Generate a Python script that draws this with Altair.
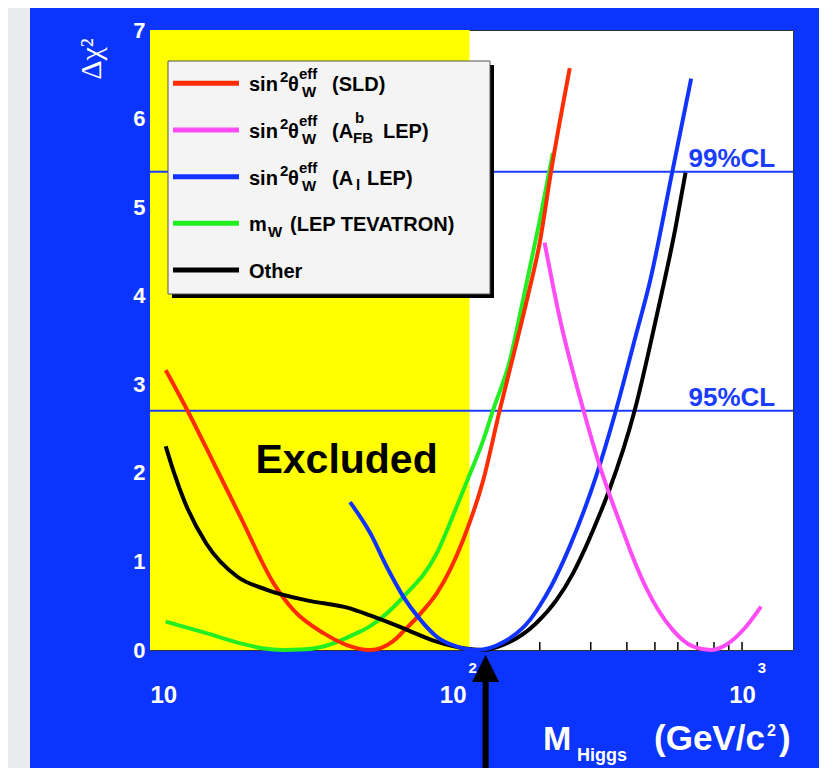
import altair as alt
import pandas as pd

# ---------------- data ----------------
sld_x = [10.2, 12.1, 15, 18.5, 24.1, 28.2, 35.8, 43.1, 51.8, 62.3, 67.6, 79.3, 88.1, 108.6, 127.6, 145.5, 166, 182, 200, 219, 254]
sld_y = [3.16, 2.71, 2.1, 1.50, 0.75, 0.45, 0.19, 0.056, 0.0, 0.1, 0.21, 0.45, 0.64, 1.24, 1.92, 2.71, 3.46, 4.0, 4.6, 5.41, 6.57]

afb_x = [207.8, 234, 283, 323, 387, 410, 465, 575, 676, 780, 882, 1030, 1163]
afb_y = [4.60, 3.76, 2.71, 2.07, 1.35, 1.13, 0.71, 0.23, 0.04, 0.0, 0.06, 0.26, 0.49]

al_x = [44.2, 51.9, 59.2, 67.6, 77.4, 88.1, 103, 121, 150, 185, 200, 219, 254, 313, 367, 431, 479, 575, 667]
al_y = [1.67, 1.32, 0.94, 0.60, 0.34, 0.15, 0.04, 0.0, 0.09, 0.34, 0.50, 0.72, 1.17, 1.96, 2.71, 3.57, 4.14, 5.41, 6.45]

mw_x = [10.2, 14.1, 18.5, 22, 26, 30, 35.8, 46.6, 51.9, 67.6, 88.1, 103.3, 114.8, 127.6, 138, 157.7, 175, 200, 222]
mw_y = [0.32, 0.19, 0.075, 0.02, 0.0, 0.005, 0.04, 0.19, 0.27, 0.60, 1.09, 1.62, 1.99, 2.37, 2.71, 3.27, 3.95, 4.85, 5.61]

oth_x = [10.2, 10.9, 11.8, 14.1, 18.0, 22.8, 31.4, 44.2, 51.9, 67.6, 88.1, 108.6, 127, 150, 194, 228, 260, 289, 323, 348, 426, 506, 590, 638]
oth_y = [2.30, 2.0, 1.69, 1.20, 0.83, 0.68, 0.56, 0.47, 0.39, 0.245, 0.094, 0.02, 0.0, 0.06, 0.30, 0.56, 0.86, 1.17, 1.54, 1.81, 2.71, 3.76, 4.78, 5.39]

cl_values = [2.7, 5.4]
cl_labels = ["95%CL", "99%CL"]
excluded_limit = 114.4
higgs_arrow = [130]
minor_ticks = [200, 300, 400, 500, 600, 700, 800, 900, 1000]
major_ticks = [10, 100, 1000]
exponents = ["2", "3"]

# ---------------- style ----------------
W, H = 643, 620
BG = "#0b34fc"
FONT = "Liberation Sans"
CL_BLUE = "#1a3cff"

xscale = alt.Scale(type="log", domain=[9, 1500], nice=False)
yscale = alt.Scale(domain=[0, 7], nice=False)
xaxis = alt.Axis(values=major_ticks, labelExpr="'10'", title=None, grid=False, ticks=False,
                 tickSize=0, domain=False, labelColor="white", labelFont=FONT,
                 labelFontWeight="bold", labelFontSize=24, labelPadding=33,
                 labelFlush=False, labelOverlap=False)
yaxis = alt.Axis(values=list(range(8)), title=None, grid=False, ticks=False, tickSize=0,
                 domain=False, labelColor="white", labelFont=FONT, labelFontWeight="bold",
                 labelFontSize=22, labelPadding=5, labelOverlap=False)


def X(f):
    return alt.X(f, type="quantitative", scale=xscale, axis=xaxis)


def Y(f):
    return alt.Y(f, type="quantitative", scale=yscale, axis=yaxis)


one = pd.DataFrame({"k": [0]})
layers = []

# light page strip at left
layers.append(alt.Chart(one).mark_rect(color="#e9ebee").encode(
    x=alt.value(-142), x2=alt.value(-120), y=alt.value(-22), y2=alt.value(H + 130)))

# excluded region
excl = pd.DataFrame({"x0": [9], "x1": [excluded_limit], "y0": [0], "y1": [7]})
layers.append(alt.Chart(excl).mark_rect(color="#ffff00").encode(
    x=X("x0"), x2="x1", y=Y("y0"), y2="y1"))

# minor ticks
tdf = pd.DataFrame({"t": minor_ticks})
layers.append(alt.Chart(tdf).mark_rule(color="black", strokeWidth=1.5).encode(
    x=X("t"), y=alt.value(H), y2=alt.value(H - 8)))

# CL lines
cl_df = pd.DataFrame({"cl": cl_values, "label": cl_labels, "xl": [1302, 1302]})
layers.append(alt.Chart(cl_df).mark_rule(color=CL_BLUE, strokeWidth=2).encode(y=Y("cl")))
layers.append(alt.Chart(cl_df).mark_text(align="right", baseline="alphabetic", dy=-5,
                                         font=FONT, fontSize=26, fontWeight="bold",
                                         color=CL_BLUE).encode(x=X("xl"), y=Y("cl"), text="label"))

# curves
series = [
    (mw_x, mw_y, "#22ee22"),
    (sld_x, sld_y, "#ff2d00"),
    (oth_x, oth_y, "#000000"),
    (al_x, al_y, "#1133ff"),
    (afb_x, afb_y, "#ff4cf5"),
]
for xs, ys, col in series:
    df = pd.DataFrame({"x": xs, "y": ys})
    layers.append(alt.Chart(df).mark_line(color=col, strokeWidth=4, interpolate="monotone").encode(
        x=X("x"), y=Y("y")))

# Excluded label
ex_df = pd.DataFrame({"x": [43], "y": [2.0], "t": ["Excluded"]})
layers.append(alt.Chart(ex_df).mark_text(align="center", baseline="alphabetic", font=FONT,
                                         fontSize=41, fontWeight="bold", color="black").encode(
    x=X("x"), y=Y("y"), text="t"))

# legend box
layers.append(alt.Chart(one).mark_rect(color="black").encode(
    x=alt.value(22), x2=alt.value(344), y=alt.value(35), y2=alt.value(268)))
layers.append(alt.Chart(one).mark_rect(fill="#f4f4f4", stroke="#555555", strokeWidth=1).encode(
    x=alt.value(18), x2=alt.value(340), y=alt.value(31), y2=alt.value(264)))

row_y = [53.3, 100, 146.7, 193.3, 240]
row_col = ["#ff2d00", "#ff4cf5", "#1133ff", "#22ee22", "#000000"]
prefix = [(0, 8, "sin", 20), (31, -1, "2", 15), (39, 8, "θ", 20), (50, -4, "eff", 15), (53, 14, "W", 15)]
rows = [
    prefix + [(83, 8, "(SLD)", 20)],
    prefix + [(83, 8, "(A", 20), (106, -7, "b", 15), (104, 13, "FB", 15), (134, 8, "LEP)", 20)],
    prefix + [(83, 8, "(A", 20), (107, 13, "l", 15), (118, 8, "LEP)", 20)],
    [(0, 8, "m", 20), (19, 14, "W", 15), (41, 8, "(LEP TEVATRON)", 20)],
    [(0, 8, "Other", 20)],
]
for ry, col, pieces in zip(row_y, row_col, rows):
    layers.append(alt.Chart(one).mark_rule(color=col, strokeWidth=5).encode(
        x=alt.value(23), x2=alt.value(89), y=alt.value(ry)))
    for dx, dy, t, fs in pieces:
        layers.append(alt.Chart(one).mark_text(align="left", baseline="alphabetic", font=FONT,
                                               fontSize=fs, fontWeight="bold", color="black").encode(
            x=alt.value(99 + dx), y=alt.value(ry + dy), text=alt.value(t)))

# axis exponents
exp_df = pd.DataFrame({"x": [100, 1000], "t": exponents})
layers.append(alt.Chart(exp_df).mark_text(align="center", baseline="middle", dx=20, font=FONT,
                                          fontSize=15, fontWeight="bold", color="white").encode(
    x=X("x"), y=alt.value(H + 18), text="t"))

# arrow
arr = pd.DataFrame({"m": higgs_arrow})
layers.append(alt.Chart(arr).mark_rule(color="black", strokeWidth=6).encode(
    x=X("m"), y=alt.value(H + 30), y2=alt.value(H + 140)))
layers.append(alt.Chart(arr).mark_point(shape="M-1,1L0,-1L1,1Z", filled=True, color="black",
                                        size=729, opacity=1).encode(
    x=X("m"), y=alt.value(H + 18.5)))

# axis titles
title_pieces = [
    (-58, 29, "Δχ²", 30, "Liberation Serif", "normal", 270, "center", "middle"),
    (393, 720, "M", 34, FONT, "bold", 0, "left", "alphabetic"),
    (427, 731, "Higgs", 18, FONT, "bold", 0, "left", "alphabetic"),
    (504, 720, "(GeV/c", 35, FONT, "bold", 0, "left", "alphabetic"),
    (617, 706, "2", 16, FONT, "bold", 0, "left", "alphabetic"),
    (629, 720, ")", 35, FONT, "bold", 0, "left", "alphabetic"),
]
for px, py, t, fs, fnt, fw, ang, al, bl in title_pieces:
    layers.append(alt.Chart(one).mark_text(align=al, baseline=bl, font=fnt, fontSize=fs,
                                           fontWeight=fw, color="white", angle=ang).encode(
        x=alt.value(px), y=alt.value(py), text=alt.value(t)))

chart = alt.layer(*layers).properties(
    width=W, height=H,
    padding={"left": 142, "top": 22, "right": 26, "bottom": 118},
    autosize=alt.AutoSizeParams(type="none"),
    background=BG,
).configure_view(fill="white", stroke="#333333", strokeWidth=1)

chart.save("out.html", embed_options={"renderer": "svg", "actions": False})
